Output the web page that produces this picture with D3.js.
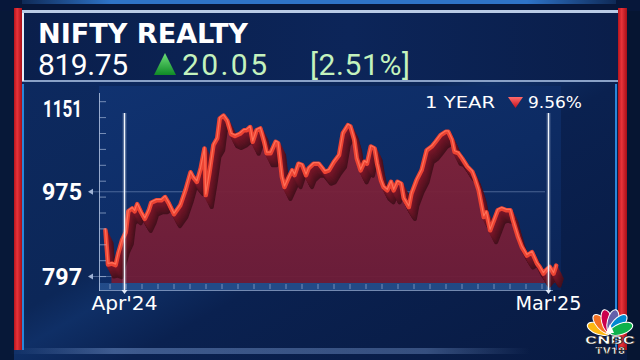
<!DOCTYPE html>
<html>
<head>
<meta charset="utf-8">
<script src="https://cdn.jsdelivr.net/npm/d3@7"></script>
<style>
  body { margin: 0; background: #0a1f4d; overflow: hidden; }
  text { font-family: Roboto, "Open Sans", sans-serif; }
  .wide { font-family: "DejaVu Sans", sans-serif; }
</style>
</head>
<body>
<svg id="chart" width="640" height="360"></svg>
<script>
// values
const dates = [
  "2024-03-17","2024-03-19","2024-03-22","2024-03-25","2024-03-27","2024-03-30","2024-04-02","2024-04-04",
  "2024-04-07","2024-04-09","2024-04-11","2024-04-14","2024-04-17","2024-04-20","2024-04-22","2024-04-26",
  "2024-04-30","2024-05-03","2024-05-06","2024-05-10","2024-05-15","2024-05-19","2024-05-23","2024-05-25",
  "2024-05-28","2024-05-31","2024-06-03","2024-06-04","2024-06-07","2024-06-10","2024-06-13","2024-06-15",
  "2024-06-18","2024-06-21","2024-06-24","2024-06-27","2024-07-01","2024-07-04","2024-07-06","2024-07-09",
  "2024-07-11","2024-07-14","2024-07-17","2024-07-20","2024-07-22","2024-07-25","2024-07-29","2024-07-31",
  "2024-08-03","2024-08-05","2024-08-08","2024-08-11","2024-08-13","2024-08-16","2024-08-19","2024-08-22",
  "2024-08-24","2024-08-28","2024-09-01","2024-09-04","2024-09-06","2024-09-09","2024-09-13","2024-09-17",
  "2024-09-20","2024-09-24","2024-09-26","2024-09-29","2024-10-01","2024-10-04","2024-10-07","2024-10-09",
  "2024-10-12","2024-10-15","2024-10-17","2024-10-20","2024-10-22","2024-10-25","2024-10-28","2024-10-30",
  "2024-11-02","2024-11-05","2024-11-07","2024-11-11","2024-11-13","2024-11-17","2024-11-21","2024-11-25",
  "2024-11-29","2024-12-02","2024-12-06","2024-12-10","2024-12-12","2024-12-15","2024-12-17","2024-12-20",
  "2024-12-23","2024-12-27","2024-12-31","2025-01-02","2025-01-05","2025-01-09","2025-01-11","2025-01-14",
  "2025-01-18","2025-01-20","2025-01-23","2025-01-27","2025-01-30","2025-02-01","2025-02-05","2025-02-08",
  "2025-02-12","2025-02-16","2025-02-20","2025-02-22","2025-02-25","2025-02-27","2025-03-02","2025-03-05",
  "2025-03-07"
];
const values = [
  894, 822, 824, 821, 845, 873, 890, 934,
  940, 934, 949, 932, 918, 935, 952, 957,
  957, 964, 950, 928, 947, 978, 1016, 1006,
  996, 1024, 1066, 968, 1017, 1073, 1087, 1129,
  1135, 1124, 1096, 1092, 1097, 1104, 1104, 1111,
  1080, 1104, 1108, 1080, 1056, 1056, 1080, 1077,
  1006, 985, 1003, 1020, 1010, 1034, 1031, 1010,
  1024, 1034, 1034, 1024, 1017, 1020, 1038, 1052,
  1098, 1115, 1112, 1084, 1045, 1020, 1038, 1034,
  1070, 1066, 1034, 999, 985, 978, 996, 978,
  996, 992, 961, 943, 971, 999, 1020, 1062,
  1070, 1080, 1094, 1101, 1101, 1084, 1059, 1056,
  1045, 1028, 1017, 1003, 978, 922, 932, 894,
  922, 936, 940, 936, 936, 915, 880, 859,
  841, 848, 824, 817, 803, 810, 817, 803,
  820
];
const yTicks = [797, 975, 1151];
const xTicks = ["2024-04-01", "2025-03-01"];
const xTickLabels = ["Apr'24", "Mar'25"];
const indexName = "NIFTY REALTY";
const lastPrice = "819.75";
const changeAbs = "20.05";
const changePct = "[2.51%]";
const periodLabel = "1 YEAR";
const periodChange = "9.56%";

const parse = d3.timeParse("%Y-%m-%d");
const data = dates.map((d, i) => ({ date: parse(d), value: values[i] }));

const svg = d3.select("#chart");
const defs = svg.append("defs");

function linGrad(id, x1, y1, x2, y2, stops) {
  const g = defs.append("linearGradient").attr("id", id)
    .attr("x1", x1).attr("y1", y1).attr("x2", x2).attr("y2", y2);
  stops.forEach(s => g.append("stop").attr("offset", s[0]).attr("stop-color", s[1]).attr("stop-opacity", s[2] == null ? 1 : s[2]));
}
linGrad("bg", 0, 0, 1, 1, [[0, "#0d2a62"], [0.45, "#0c2758"], [0.5, "#0f2f66"], [0.6, "#0a2150"], [1, "#081a42"]]);
linGrad("panel", 0, 0, 1, 1, [[0, "#103270"], [0.6, "#0d2b63"], [1, "#0b2456"]]);
linGrad("header", 0, 0, 1, 0, [[0, "#0a1f4c"], [0.55, "#0c2559"], [1, "#0a1e4a"]]);
linGrad("topbar", 0, 0, 1, 0, [[0, "#2e74c8", 0.2], [0.15, "#2e74c8", 1], [0.85, "#2e74c8", 1], [1, "#2e74c8", 0.2]]);
linGrad("redbar", 0, 0, 1, 0, [[0, "#b5141c"], [0.4, "#e8333a"], [1, "#a80f18"]]);
linGrad("up", 0, 0, 0, 1, [[0, "#6fe07a"], [1, "#0f8a26"]]);
linGrad("down", 0, 0, 0, 1, [[0, "#ff6b6b"], [1, "#c4101c"]]);
linGrad("face", 0, 0, 0, 1, [[0, "#812339"], [1, "#6e1c37"]]);
linGrad("glow", 0, 0, 1, 0, [[0, "#9fc4ff", 0], [0.2, "#9fc4ff", 0.35], [0.8, "#9fc4ff", 0.3], [1, "#9fc4ff", 0]]);
linGrad("fadeLine", 0, 0, 1, 0, [[0, "#a9bce0", 0], [0.3, "#a9bce0", 0.45], [1, "#a9bce0", 0.45]]);

// background
svg.append("rect").attr("width", 640).attr("height", 360).attr("fill", "url(#bg)");
svg.append("rect").attr("x", 0).attr("y", 0).attr("width", 14).attr("height", 360).attr("fill", "#071838");
svg.append("rect").attr("x", 627).attr("y", 0).attr("width", 13).attr("height", 360).attr("fill", "#061532");
svg.append("rect").attr("x", 0).attr("y", 0).attr("width", 640).attr("height", 11).attr("fill", "#07173a");
svg.append("rect").attr("x", 22).attr("y", 0).attr("width", 594).attr("height", 4).attr("fill", "url(#topbar)");
svg.append("rect").attr("x", 10).attr("y", 348).attr("width", 520).attr("height", 6).attr("fill", "url(#glow)");

// header
svg.append("rect").attr("x", 22).attr("y", 12).attr("width", 596).attr("height", 70).attr("fill", "url(#header)");
svg.append("rect").attr("x", 22).attr("y", 10).attr("width", 596).attr("height", 3).attr("fill", "#b9cbe6");
svg.append("rect").attr("x", 22).attr("y", 80).attr("width", 596).attr("height", 2).attr("fill", "#8aa2c8");
svg.append("rect").attr("x", 22).attr("y", 13).attr("width", 2).attr("height", 68).attr("fill", "#e6eef9");

// side bars
svg.append("rect").attr("x", 14).attr("y", 8).attr("width", 8).attr("height", 342).attr("fill", "url(#redbar)");
svg.append("rect").attr("x", 22).attr("y", 84).attr("width", 2).attr("height", 266).attr("fill", "#2a86d8");
svg.append("rect").attr("x", 618).attr("y", 8).attr("width", 9).attr("height", 342).attr("fill", "url(#redbar)");
svg.append("rect").attr("x", 615).attr("y", 84).attr("width", 2).attr("height", 266).attr("fill", "#2a86d8");

svg.append("text").attr("class", "wide").attr("x", 38).attr("y", 43).attr("fill", "#ffffff")
  .attr("font-size", 26).attr("font-weight", 700).attr("textLength", 210).attr("lengthAdjust", "spacingAndGlyphs")
  .text(indexName);
svg.append("text").attr("x", 38).attr("y", 75).attr("fill", "#ffffff")
  .attr("font-size", 30).attr("textLength", 90).attr("lengthAdjust", "spacing").text(lastPrice);
svg.append("path").attr("d", "M154,75 L176,75 L165,53 Z").attr("fill", "url(#up)");
svg.append("text").attr("x", 182).attr("y", 75).attr("fill", "#c4f3bd")
  .attr("font-size", 30).attr("textLength", 85).attr("lengthAdjust", "spacing").text(changeAbs);
svg.append("text").attr("x", 310).attr("y", 75).attr("fill", "#c4f3bd")
  .attr("font-size", 30).attr("textLength", 100).attr("lengthAdjust", "spacing").text(changePct);

// chart panel
svg.append("rect").attr("x", 99).attr("y", 86).attr("width", 462).attr("height", 204).attr("fill", "url(#panel)");

const x = d3.scaleTime().domain([parse(xTicks[0]), parse(xTicks[1])]).range([124.5, 548.5]);
const y = d3.scaleLinear().domain([797, 1151]).range([276.5, 108]);

// grid lines
const g = svg.append("g");
g.selectAll("line.grid").data(yTicks.filter(t => t !== 1151)).enter().append("line")
  .attr("x1", 93).attr("x2", 545).attr("y1", d => y(d)).attr("y2", d => y(d))
  .attr("stroke", "#a9bce0").attr("stroke-opacity", 0.4).attr("stroke-width", 1);
g.append("line").attr("x1", 350).attr("x2", 545).attr("y1", y(1151)).attr("y2", y(1151))
  .attr("stroke", "url(#fadeLine)").attr("stroke-width", 1);

// bottom ruler band
const band = svg.append("g");
band.append("rect").attr("x", 99).attr("y", 283).attr("width", 452).attr("height", 7).attr("fill", "#3566a8").attr("opacity", 0.55);
band.selectAll("line").data(d3.range(110, 550, 16)).enter().append("line")
  .attr("x1", d => d).attr("x2", d => d).attr("y1", 284).attr("y2", 289)
  .attr("stroke", "#c7d6ef").attr("stroke-opacity", 0.5);
band.append("line").attr("x1", 99).attr("x2", 553).attr("y1", 290.5).attr("y2", 290.5)
  .attr("stroke", "#9fb6dc").attr("stroke-opacity", 0.7);

// area + extruded line
const dx = 6, dy = 12;
const line = d3.line().x(d => x(d.date)).y(d => y(d.value));
const area = d3.area().x(d => x(d.date) + dx).y0(283).y1(d => y(d.value) + dy);

svg.append("path").datum(data).attr("d", area).attr("fill", "url(#face)").attr("opacity", 0.95);

const steps = 10;
const shade = d3.scaleLinear().domain([1, steps]).range(["#7a1628", "#45101d"]);
for (let k = steps; k >= 1; k--) {
  svg.append("path").datum(data).attr("d", line)
    .attr("transform", `translate(${dx * k / steps},${dy * k / steps})`)
    .attr("fill", "none").attr("stroke", shade(k))
    .attr("stroke-width", 4).attr("stroke-linejoin", "round");
}
svg.append("path").datum(data).attr("d", line)
  .attr("fill", "none").attr("stroke", "#ec4333").attr("stroke-width", 4.5)
  .attr("stroke-linejoin", "round").attr("stroke-linecap", "round");
svg.append("path").datum(data).attr("d", line).attr("transform", "translate(0,-1)")
  .attr("fill", "none").attr("stroke", "#ff7058").attr("stroke-width", 1.2).attr("stroke-linejoin", "round");

// y axis
const ya = svg.append("g");
ya.append("line").attr("x1", 99.5).attr("x2", 99.5).attr("y1", 93).attr("y2", 291)
  .attr("stroke", "#b9c9e6").attr("stroke-opacity", 0.8);
ya.selectAll("line.minor").data(d3.range(101.7, 285, 15.9)).enter().append("line")
  .attr("x1", 99.5).attr("x2", 106).attr("y1", d => d).attr("y2", d => d)
  .attr("stroke", "#b9c9e6").attr("stroke-opacity", 0.6);
ya.selectAll("text").data(yTicks).enter().append("text")
  .attr("x", 82).attr("y", d => y(d) + 8.5).attr("text-anchor", "end")
  .attr("fill", "#ffffff").attr("font-size", 23).attr("font-weight", 700)
  .attr("textLength", d => d === 1151 ? 39 : 40).attr("lengthAdjust", "spacingAndGlyphs")
  .text(d => d);
ya.selectAll("path.mark").data(yTicks.filter(t => t !== 1151)).enter().append("path")
  .attr("d", d => `M88,${y(d)} L93,${y(d) - 3} L93,${y(d) + 3} Z`)
  .attr("fill", "#9fb2d4");

// x markers
const xa = svg.append("g");
xTicks.forEach((t, i) => {
  const px = x(parse(t));
  xa.append("line").attr("x1", px).attr("x2", px).attr("y1", 113).attr("y2", 290)
    .attr("stroke", "#dfe9f8").attr("stroke-opacity", 0.25).attr("stroke-width", 4);
  xa.append("line").attr("x1", px).attr("x2", px).attr("y1", 113).attr("y2", 290)
    .attr("stroke", "#f2f6fc").attr("stroke-width", 1.3);
  xa.append("path").attr("d", `M${px - 3},290 L${px + 3},290 L${px},294 Z`).attr("fill", "#dfe9f8");
  xa.append("text").attr("class", "wide").attr("x", px).attr("y", 310).attr("text-anchor", "middle")
    .attr("fill", "#ffffff").attr("font-size", 20)
    .attr("textLength", 66).attr("lengthAdjust", "spacingAndGlyphs").text(xTickLabels[i]);
});

// 1 year label
svg.append("text").attr("class", "wide").attr("x", 425).attr("y", 108).attr("fill", "#ffffff")
  .attr("font-size", 15).attr("textLength", 70).attr("lengthAdjust", "spacingAndGlyphs")
  .text(periodLabel);
svg.append("path").attr("d", "M508,97 L523,97 L515.5,108 Z").attr("fill", "url(#down)");
svg.append("text").attr("class", "wide").attr("x", 528).attr("y", 108).attr("fill", "#ffffff")
  .attr("font-size", 15).attr("textLength", 54).attr("lengthAdjust", "spacingAndGlyphs")
  .text(periodChange);

// logo
const logo = svg.append("g").attr("transform", "translate(610,333)");
const feathers = ["#fcb711", "#f37021", "#cc004c", "#6460aa", "#0089d0", "#0db14b"];
feathers.forEach((c, i) => {
  const a = -70 + i * 28;
  logo.append("ellipse").attr("cx", 0).attr("cy", -12).attr("rx", 5.5).attr("ry", 12)
    .attr("transform", `rotate(${a})`).attr("fill", c).attr("stroke", "#ffffff").attr("stroke-width", 1);
});
logo.append("path").attr("d", "M-4,0 L4,0 L0,-9 Z").attr("fill", "#ffffff");
logo.append("text").attr("x", 0).attr("y", 11).attr("text-anchor", "middle")
  .attr("font-size", 10).attr("font-weight", 900).attr("fill", "#ffffff")
  .attr("stroke", "#1a1a1a").attr("stroke-width", 0.5)
  .attr("textLength", 50).attr("lengthAdjust", "spacingAndGlyphs").text("CNBC");
logo.append("text").attr("x", 0).attr("y", 21).attr("text-anchor", "middle")
  .attr("font-size", 9).attr("font-weight", 900).attr("fill", "#ffffff")
  .attr("stroke", "#1a1a1a").attr("stroke-width", 0.5)
  .attr("textLength", 30).attr("lengthAdjust", "spacingAndGlyphs").text("TV18");
</script>
</body>
</html>
